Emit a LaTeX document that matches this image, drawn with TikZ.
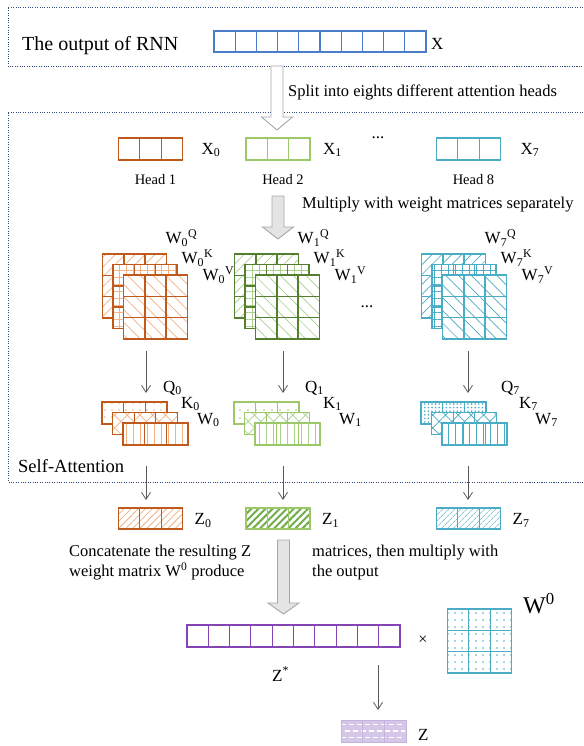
\documentclass[tikz,border=0pt]{standalone}
\usepackage{fontspec}
\setmainfont{Liberation Serif}
\usepackage{tikz}
\usetikzlibrary{arrows.meta,positioning,calc,patterns.meta}

\definecolor{rnnblue}{HTML}{4A7CC8}
\definecolor{navy}{HTML}{2B4A7E}
\definecolor{hbrown}{HTML}{C05A1C}
\definecolor{hbrownl}{HTML}{F4B183}
\definecolor{hgreen}{HTML}{9CC86A}
\definecolor{hgreend}{HTML}{557F2E}
\definecolor{hgreenl}{HTML}{A9D18E}
\definecolor{zgreen}{HTML}{70AD47}
\definecolor{hcyan}{HTML}{4BACC6}
\definecolor{zpurple}{HTML}{8344B4}
\definecolor{lavender}{HTML}{D5C7E7}
\definecolor{lavenderd}{HTML}{C6B3DD}
\definecolor{arrowgray}{HTML}{A6A6A6}
\definecolor{arrowfill}{HTML}{E4E4E4}
\definecolor{linegray}{HTML}{595959}

\newcommand{\pxfont}[1]{\fontsize{#1}{#1}\selectfont}
% cell dividers of a node: node, columns, rows, style
\newcommand{\splitcells}[4]{%
  \foreach \k in {1,...,#2}{\draw[#4] ($(#1.north west)!\k/#2!(#1.north east)$) -- ($(#1.south west)!\k/#2!(#1.south east)$);}
  \foreach \k in {1,...,#3}{\draw[#4] ($(#1.north west)!\k/#3!(#1.south west)$) -- ($(#1.north east)!\k/#3!(#1.south east)$);}
}
% block arrow: style, x, y top, y head, y tip
\newcommand{\blockarrow}[5]{%
  \draw[#1] (#2-6,#3) -- (#2-6,#4) -- (#2-15.5,#4) -- (#2,#5) -- (#2+15.5,#4) -- (#2+6,#4) -- (#2+6,#3) -- cycle;
}

\tikzset{
  region/.style={navy, line width=0.9pt, dash pattern=on 1.1pt off 1.3pt},
  cellbox/.style={draw=#1, line width=1.1pt, inner sep=0pt, outer sep=0pt, preaction={fill=white}},
  vec/.style={cellbox=#1, minimum width=64pt, minimum height=22pt},
  mat/.style={cellbox=#1, line width=1.4pt, minimum width=64pt, minimum height=64pt},
  blk/.style={cellbox=#1, minimum width=65pt, minimum height=22pt},
  matQ/.style={pattern={Lines[angle=45,distance=7pt,line width=0.7pt]}, pattern color=#1},
  matK/.style={pattern={Hatch[angle=0,distance=7pt,line width=0.7pt]}, pattern color=#1},
  matV/.style={pattern={Lines[angle=-45,distance=9pt,line width=0.7pt]}, pattern color=#1},
  blkK/.style={pattern={Hatch[angle=45,distance=9pt,line width=0.7pt]}, pattern color=#1},
  blkV/.style={pattern={Lines[angle=90,distance=7pt,line width=0.8pt]}, pattern color=#1},
  qpat0/.style={pattern={Dots[radius=0.8pt,distance=7pt]}, pattern color=hbrownl},
  qpat1/.style={pattern={Dots[radius=0.8pt,distance=8pt]}, pattern color=hgreen},
  qpat7/.style={pattern={Dots[radius=0.9pt,distance=3.6pt]}, pattern color=hcyan},
  zpat0/.style={pattern={Lines[angle=45,distance=5pt,line width=0.8pt]}, pattern color=hbrownl},
  zpat1/.style={pattern={Lines[angle=45,distance=5pt,line width=2pt]}, pattern color=zgreen},
  zpat7/.style={pattern={Lines[angle=45,distance=4pt,line width=0.6pt]}, pattern color=hcyan},
  conn/.style={linegray, line width=0.8pt, -{Straight Barb[length=7pt,width=9pt]}},
  lbl/.style={font=\pxfont{17}, inner sep=0pt, anchor=west},
  note/.style={font=\fontsize{16.5}{20}\selectfont, inner sep=0pt, anchor=west, align=left},
  hollow/.style={draw=arrowgray, fill=white, line width=0.9pt},
  grayarrow/.style={draw=arrowgray, fill=arrowfill, line width=0.9pt},
}

\begin{document}
\begin{tikzpicture}[x=1pt, y=-1pt]
\useasboundingbox (0,0) rectangle (583,746);

% output of the RNN
\draw[region] (583,7) -- (8,7) -- (8,66) -- (583,66);
\node[anchor=west, inner sep=0pt, font=\pxfont{20}] (rnn) at (22,46) {The output of RNN};
\node[cellbox=rnnblue, minimum width=212pt, minimum height=21pt] (x) at (320,41.5) {};
\splitcells{x}{10}{1}{rnnblue, line width=1.1pt}
\node[lbl] (xlab) at (431,44) {X};

% self-attention block
\draw[region] (583,112) -- (8,112) -- (8,482) -- (583,482);
\blockarrow{hollow}{277}{66}{117}{130}
\node[note] (split) at (288,92) {Split into eights different attention heads};
\blockarrow{grayarrow}{278}{196}{227}{239}
\node[note] (mult) at (302,205) {Multiply with weight matrices separately};
\node[anchor=west, inner sep=0pt, font=\pxfont{18.5}] (selfatt) at (18,466) {Self-Attention};
\node[font=\pxfont{17}] (dots1) at (378,138) {...};
\node[font=\pxfont{17}] (dots2) at (367,307) {...};

\foreach \n/\bx/\hx/\ax/\hc/\mc/\pc/\xo/\qo in
  {0/102/150.5/146/hbrown/hbrown/hbrownl/19/-4,
   1/234/278/283/hgreen/hgreend/hgreenl/13/6,
   7/421/468.5/468/hcyan/hcyan/hcyan/20/15}{
  \pgfmathtruncatemacro{\hn}{\n+1}
  % head
  \node[vec=\hc] (hd\n) at (\hx,149) {};
  \splitcells{hd\n}{3}{1}{\hc, line width=1.1pt}
  \node[lbl] at ($(hd\n.east)+(\xo,1)$) {X\textsubscript{\n}};
  \node[font=\pxfont{14.5}] at (\hx+5,180) {Head \hn};
  % weight matrices
  \node[mat=\mc, matQ=\pc] (wq\n) at (\bx+32.5,286) {};
  \splitcells{wq\n}{3}{3}{\mc, line width=1.4pt}
  \node[mat=\mc, matK=\pc] (wk\n) at (\bx+43,296.5) {};
  \splitcells{wk\n}{3}{3}{\mc, line width=1.4pt}
  \node[mat=\mc, matV=\pc] (wv\n) at (\bx+53.5,307) {};
  \splitcells{wv\n}{3}{3}{\mc, line width=1.4pt}
  \node[lbl] (lwq\n) at ($(wq\n.north east)+(-1,-16)$) {W\textsubscript{\n}\textsuperscript{Q}};
  \node[lbl] at ($(lwq\n.west)+(16,20)$) {W\textsubscript{\n}\textsuperscript{K}};
  \node[lbl] at ($(lwq\n.west)+(37,37)$) {W\textsubscript{\n}\textsuperscript{V}};
  % Q, K, V
  \node[blk=\hc, qpat\n] (bq\n) at (\bx+32.5,413) {};
  \splitcells{bq\n}{3}{1}{\hc, line width=1.1pt}
  \node[blk=\hc, blkK=\pc] (bk\n) at (\bx+43,423.5) {};
  \splitcells{bk\n}{3}{1}{\hc, line width=1.1pt}
  \node[blk=\hc, blkV=\pc] (bv\n) at (\bx+53.5,434) {};
  \splitcells{bv\n}{3}{1}{\hc, line width=1.1pt}
  \node[lbl] (lq\n) at ($(bq\n.north east)+(\qo,-14)$) {Q\textsubscript{\n}};
  \node[lbl] at ($(lq\n.west)+(18,16)$) {K\textsubscript{\n}};
  \node[lbl] at ($(lq\n.west)+(34,32)$) {W\textsubscript{\n}};
  % head output
  \node[vec=\hc, minimum height=21pt, zpat\n] (z\n) at (\hx,518.5) {};
  \splitcells{z\n}{3}{1}{\hc, line width=1.1pt}
  \node[lbl] at ($(z\n.east)+(12,2)$) {Z\textsubscript{\n}};
  \coordinate (c\n) at (\ax,0);
  \draw[conn] ($(c\n |- wv\n.south)+(0,12)$) -- ($(c\n |- bq\n.north)+(0,-9)$);
  \draw[conn] ($(c\n |- bv\n.south)+(0,21)$) -- ($(c\n |- z\n.north)+(0,-8)$);
}

% concatenation
\node[note] (concat) at (69,563) {Concatenate the resulting Z\\weight matrix W\textsuperscript{0} produce};
\node[note] (concat2) at (312,563) {matrices, then multiply with\\the output};
\blockarrow{grayarrow}{283.5}{540}{603}{614}
\node[cellbox=zpurple, minimum width=213pt, minimum height=22pt] (zs) at (293.5,636) {};
\splitcells{zs}{10}{1}{zpurple, line width=1.1pt}
\node[lbl] (zslab) at (272,674) {Z\textsuperscript{*}};
\node[font=\pxfont{16}] (times) at (423,640) {×};
\node[mat=hcyan, line width=1.2pt, pattern={Dots[radius=0.8pt,distance=7pt]}, pattern color=hcyan] (w0) at (479.5,641) {};
\splitcells{w0}{3}{3}{hcyan, line width=1.2pt}
\node[lbl, font=\pxfont{24}] (w0lab) at (523,604) {W\textsuperscript{0}};
\node[inner sep=0pt, outer sep=0pt, fill=lavender, minimum width=65pt, minimum height=22pt] (zf) at (373.5,731) {};
\begin{scope}
  \clip ($(zf.north west)+(1,1)$) rectangle ($(zf.south east)+(-1,-1)$);
  \foreach \r/\ph in {4.5/0,11/4,17.5/0}
    \draw[white, line width=1.3pt, dash pattern=on 5pt off 3pt, dash phase=\ph pt] ($(zf.north west)+(0,\r)$) -- ($(zf.north east)+(0,\r)$);
\end{scope}
\draw[lavenderd, line width=1pt] (zf.north west) rectangle (zf.south east);
\splitcells{zf}{3}{1}{lavenderd, line width=1pt}
\node[lbl] (zlab) at (418,735) {Z};
\draw[conn] ($(zs.south east)+(-22,18)$) -- ($(zf.north)+(4.5,-10)$);
\end{tikzpicture}
\end{document}
